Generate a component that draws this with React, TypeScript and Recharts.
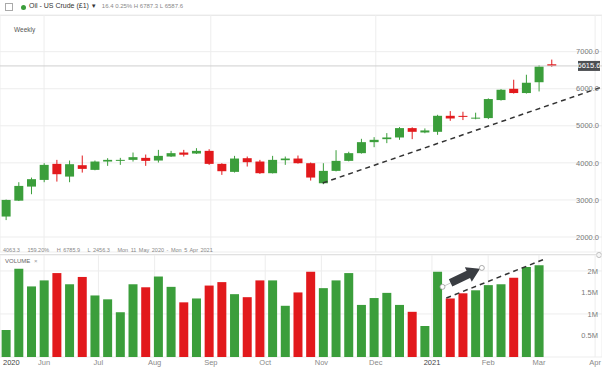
import React from "react";
import {
  ComposedChart,
  Bar,
  XAxis,
  YAxis,
  CartesianGrid,
  ReferenceLine,
  Cell,
} from "recharts";

// weekly candles, first week starts Mon 11 May 2020
const firstWeek = "2020-05-11";
const opens = [2552, 2980, 3360, 3540, 3973, 3630, 3937, 3811, 4036, 4054, 4081, 4135, 4063, 4171, 4279, 4252, 4324, 3973, 3757, 4126, 4036, 3721, 4072, 4117, 3991, 3450, 3784, 4054, 4262, 4559, 4640, 4685, 4938, 4820, 4838, 5270, 5268, 5212, 5208, 5695, 5999, 5884, 6176, 6660];
const highs = [3010, 3478, 3603, 3991, 4081, 4063, 4198, 4063, 4126, 4135, 4279, 4225, 4351, 4324, 4351, 4397, 4369, 3990, 4189, 4171, 4081, 4189, 4171, 4198, 4009, 3991, 4342, 4300, 4649, 4694, 4803, 4965, 4960, 4930, 5297, 5397, 5380, 5354, 5740, 5990, 6243, 6378, 6640, 6787];
const lows = [2456, 2970, 3154, 3478, 3495, 3478, 3738, 3800, 3919, 3946, 4036, 3919, 4009, 4160, 4171, 4240, 3946, 3676, 3739, 3901, 3703, 3715, 3946, 3980, 3522, 3424, 3770, 4040, 4250, 4423, 4532, 4622, 4640, 4800, 4757, 5135, 5155, 5176, 5181, 5680, 5870, 5870, 5927, 6588];
const closes = [3000, 3378, 3560, 3946, 3694, 3964, 3838, 4036, 4081, 4081, 4154, 4054, 4189, 4262, 4220, 4324, 3973, 3775, 4117, 4018, 3721, 4081, 4117, 3991, 3604, 3784, 4054, 4262, 4559, 4622, 4685, 4938, 4838, 4875, 5270, 5198, 5262, 5220, 5722, 5973, 5884, 6162, 6599, 6615.6];
// volume in millions
const volumes = [0.63, 2.05, 1.64, 1.78, 1.95, 1.69, 1.86, 1.43, 1.34, 1.04, 1.69, 1.62, 1.87, 1.63, 1.27, 1.36, 1.66, 1.74, 1.46, 1.39, 1.78, 1.78, 1.19, 1.5, 1.98, 1.6, 1.78, 1.95, 1.21, 1.37, 1.49, 1.21, 1.05, 0.72, 1.98, 1.36, 1.48, 1.55, 1.67, 1.69, 1.84, 2.09, 2.13, 0];

const monthDates = ["2020-06-01", "2020-07-01", "2020-08-01", "2020-09-01", "2020-10-01", "2020-11-01", "2020-12-01", "2021-01-01", "2021-02-01", "2021-03-01", "2021-04-01"];
const monthLabels = ["Jun", "Jul", "Aug", "Sep", "Oct", "Nov", "Dec", "2021", "Feb", "Mar", "Apr"];
const firstLabel = "2020";
const priceTicks = [2000, 3000, 4000, 5000, 6000, 7000];
const volumeTicks = [0.5, 1, 1.5, 2];

// trend lines / drawing (week index, value)
const priceTrend = [{ x: 24.96, y: 3457 }, { x: 46.97, y: 6048 }];
const volumeTrend = [{ x: 34.7, y: 1.37 }, { x: 42.4, y: 2.27 }];
const volumeArrow = [{ x: 34.4, y: 1.63 }, { x: 37.5, y: 2.07 }];

const GREEN = "#3b9e3b";
const RED = "#e2191c";
const GRID = "#ededed";
const FONT = "Arial, 'Liberation Sans', sans-serif";

const DAY = 86400000;
const weekIndex = (d: string) => (Date.parse(d) - Date.parse(firstWeek)) / (7 * DAY);

const xDomain: [number, number] = [-0.47, 46.97];
const xTicks = [xDomain[0], ...monthDates.map(weekIndex)];
const xLabels = [firstLabel, ...monthLabels];

const rows = opens.map((open, i) => ({
  i,
  open,
  high: highs[i],
  low: lows[i],
  close: closes[i],
  range: [lows[i], highs[i]],
  vol: volumes[i],
}));

const lastClose = closes[closes.length - 1];

function Candle(props: any) {
  const { x, y, width, height, payload } = props;
  const { open, close, high, low } = payload;
  const color = close >= open ? GREEN : RED;
  const top = Math.min(y, y + height);
  const h = Math.abs(height);
  const k = h / (high - low);
  const bodyTop = top + (high - Math.max(open, close)) * k;
  const bodyH = Math.max(1, Math.abs(open - close) * k);
  const cx = x + width / 2;
  return (
    <g>
      <line x1={cx} x2={cx} y1={top} y2={top + h} stroke={color} strokeWidth={1} />
      <rect x={x} y={bodyTop} width={width} height={bodyH} fill={color} />
    </g>
  );
}

function PriceTag(props: any) {
  const { viewBox, value } = props;
  const right = viewBox.x + viewBox.width;
  return (
    <g>
      <rect x={right - 24} y={viewBox.y - 5} width={22} height={10} fill="#4d4f52" />
      <text x={right - 13} y={viewBox.y + 2.5} textAnchor="middle" fontSize={7.5} fill="#fff">
        {value}
      </text>
    </g>
  );
}

function MonthTick(props: any) {
  const { x, y, index } = props;
  const label = xLabels[index];
  const year = /^\d+$/.test(label);
  return (
    <text
      x={index === 0 ? x + 3 : x}
      y={y + 6}
      textAnchor={index === 0 ? "start" : "middle"}
      fontSize={7.5}
      fill={year ? "#444" : "#8a8a8a"}
    >
      {label}
    </text>
  );
}

function ArrowShape(props: any) {
  const { x1, y1, x2, y2 } = props;
  const dx = x2 - x1;
  const dy = y2 - y1;
  const len = Math.hypot(dx, dy);
  const ux = dx / len;
  const uy = dy / len;
  const nx = -uy;
  const ny = ux;
  const t = { x: x1 + ux * 9, y: y1 + uy * 9 };
  const tip = { x: x2 - ux * 2, y: y2 - uy * 2 };
  const b = { x: tip.x - ux * 13, y: tip.y - uy * 13 };
  const sw = 4;
  const hw = 8;
  const pts = [
    [t.x + nx * sw, t.y + ny * sw],
    [b.x + nx * sw, b.y + ny * sw],
    [b.x + nx * hw, b.y + ny * hw],
    [tip.x, tip.y],
    [b.x - nx * hw, b.y - ny * hw],
    [b.x - nx * sw, b.y - ny * sw],
    [t.x - nx * sw, t.y - ny * sw],
  ]
    .map((p) => p.join(","))
    .join(" ");
  return (
    <g>
      <line x1={x1} y1={y1} x2={x2} y2={y2} stroke="#bbb" strokeWidth={0.8} />
      <polygon points={pts} fill="#3a3d42" />
      <circle cx={x1} cy={y1} r={2.5} fill="#fff" stroke="#999" strokeWidth={0.8} />
      <circle cx={x2} cy={y2} r={2.5} fill="#fff" stroke="#999" strokeWidth={0.8} />
    </g>
  );
}

export default function App() {
  return (
    <div
      style={{
        position: "absolute",
        left: 0,
        top: 0,
        width: 602,
        height: 367,
        background: "#fff",
        fontFamily: FONT,
        overflow: "hidden",
      }}
    >
      <div style={{ position: "absolute", left: 5, top: 3, width: 6, height: 6, border: "1px solid #aaa" }} />
      <div style={{ position: "absolute", left: 21, top: 5, width: 5, height: 5, borderRadius: 3, background: GREEN }} />
      <div style={{ position: "absolute", left: 29, top: 2, fontSize: 7, color: "#333", whiteSpace: "nowrap" }}>
        Oil - US Crude (£1) <span style={{ fontSize: 6 }}>▼</span>
        <span style={{ marginLeft: 5, fontSize: 6, color: "#888" }}>16.4 0.25% H 6787.3 L 6587.6</span>
      </div>
      <div style={{ position: "absolute", left: 0, top: 15, width: 602, height: 1, background: "#e4e4e4" }} />

      <div style={{ position: "absolute", left: 0, top: 0 }}>
        <ComposedChart width={602} height={253} data={rows} margin={{ top: 15, right: 0, left: 0, bottom: 1 }}>
          <CartesianGrid stroke={GRID} />
          <XAxis dataKey="i" type="number" domain={xDomain} ticks={xTicks} allowDataOverflow hide />
          <YAxis
            orientation="right"
            mirror
            domain={[1595, 7990]}
            ticks={priceTicks}
            allowDataOverflow
            tickFormatter={(v: number) => v.toFixed(1)}
            tickLine={false}
            axisLine={false}
            tickSize={0}
            tickMargin={3}
            tick={{ fontSize: 7.5, fill: "#7a7a7a" }}
          />
          <ReferenceLine y={lastClose} stroke="#cfcfcf" label={<PriceTag value={lastClose.toFixed(1)} />} />
          <Bar dataKey="range" barSize={9} shape={<Candle />} isAnimationActive={false} />
          <ReferenceLine
            segment={priceTrend}
            stroke="#333"
            strokeWidth={1.5}
            strokeDasharray="5 4"
            ifOverflow="visible"
          />
        </ComposedChart>
      </div>

      <div style={{ position: "absolute", left: 14, top: 26, fontSize: 6.5, color: "#555" }}>Weekly</div>
      <div style={{ position: "absolute", left: 3, top: 247, fontSize: 5.5, color: "#888", whiteSpace: "nowrap", wordSpacing: 1 }}>
        4063.3&nbsp;&nbsp;&nbsp;159.20%&nbsp;&nbsp;&nbsp;H 6785.9&nbsp;&nbsp;&nbsp;L 2456.3&nbsp;&nbsp;&nbsp;Mon 11 May 2020 - Mon 5 Apr 2021
      </div>
      <div style={{ position: "absolute", left: 0, top: 254, width: 597, height: 1, background: "#d6d6d6" }} />
      <div style={{ position: "absolute", left: 596, top: 252, width: 4, height: 4, borderRadius: 3, border: "1px solid #bbb", background: "#fff" }} />

      <div style={{ position: "absolute", left: 0, top: 253 }}>
        <ComposedChart width={602} height={114} data={rows} margin={{ top: 2, right: 0, left: 0, bottom: 0 }}>
          <CartesianGrid stroke={GRID} />
          <XAxis
            dataKey="i"
            type="number"
            domain={xDomain}
            ticks={xTicks}
            allowDataOverflow
            interval={0}
            height={10}
            tickLine={false}
            axisLine={false}
            tickSize={0}
            tick={<MonthTick />}
          />
          <YAxis
            orientation="right"
            mirror
            domain={[0, 2.37]}
            ticks={volumeTicks}
            allowDataOverflow
            tickFormatter={(v: number) => v + "M"}
            tickLine={false}
            axisLine={false}
            tickSize={0}
            tickMargin={4}
            tick={{ fontSize: 7.5, fill: "#7a7a7a" }}
          />
          <Bar dataKey="vol" barSize={9} isAnimationActive={false}>
            {rows.map((r) => (
              <Cell key={r.i} fill={r.close >= r.open ? GREEN : RED} />
            ))}
          </Bar>
          <ReferenceLine
            segment={volumeTrend}
            stroke="#333"
            strokeWidth={1.5}
            strokeDasharray="5 4"
            ifOverflow="visible"
          />
          <ReferenceLine segment={volumeArrow} ifOverflow="visible" shape={<ArrowShape />} />
        </ComposedChart>
      </div>
      <div style={{ position: "absolute", left: 5, top: 258, fontSize: 6, color: "#666" }}>
        VOLUME <span style={{ marginLeft: 2, color: "#999" }}>×</span>
      </div>
    </div>
  );
}
